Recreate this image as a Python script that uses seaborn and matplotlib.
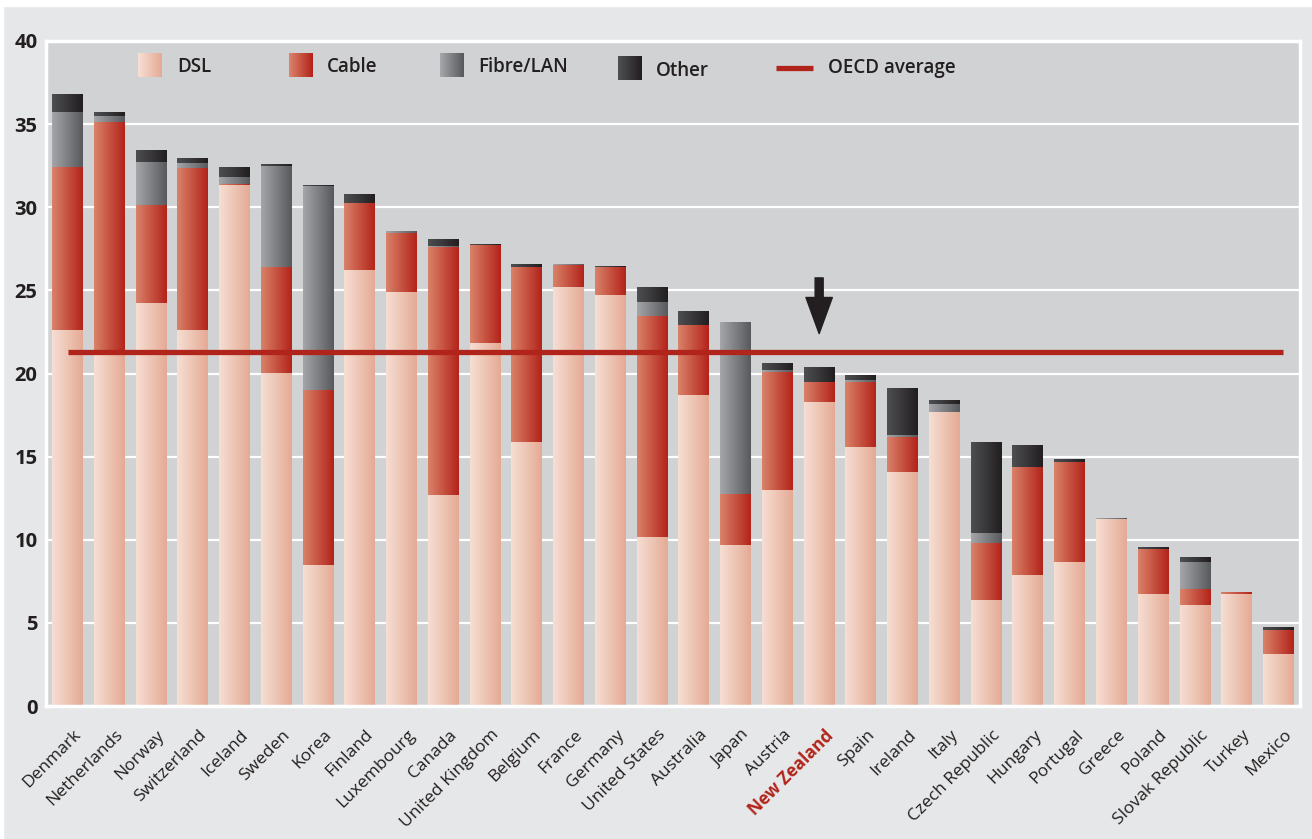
import numpy as np
import matplotlib
matplotlib.use("Agg")
import matplotlib.pyplot as plt
import seaborn as sns
from matplotlib.colors import LinearSegmentedColormap
from matplotlib.patches import Rectangle
from matplotlib.transforms import ScaledTranslation

# ---------------------------------------------------------
# Data: broadband subscribers per 100 inhabitants, by technology
# ---------------------------------------------------------
countries = [
    "Denmark", "Netherlands", "Norway", "Switzerland", "Iceland", "Sweden",
    "Korea", "Finland", "Luxembourg", "Canada", "United Kingdom", "Belgium",
    "France", "Germany", "United States", "Australia", "Japan", "Austria",
    "New Zealand", "Spain", "Ireland", "Italy", "Czech Republic", "Hungary",
    "Portugal", "Greece", "Poland", "Slovak Republic", "Turkey", "Mexico",
]
dsl = [22.6, 21.4, 24.2, 22.6, 31.3, 20.0, 8.45, 26.2, 24.9, 12.65,
       21.8, 15.85, 25.2, 24.7, 10.15, 18.7, 9.65, 12.95, 18.25, 15.55,
       14.05, 17.65, 6.35, 7.85, 8.65, 11.2, 6.7, 6.05, 6.7, 3.1]
cable = [9.8, 13.7, 5.9, 9.75, 0.05, 6.4, 10.55, 4.05, 3.5, 14.95,
         5.9, 10.5, 1.3, 1.65, 13.25, 4.2, 3.1, 7.1, 1.2, 3.9,
         2.1, 0.0, 3.4, 6.5, 6.0, 0.0, 2.7, 0.95, 0.12, 1.45]
fibre = [3.3, 0.35, 2.6, 0.3, 0.45, 6.05, 12.25, 0.0, 0.12, 0.05,
         0.0, 0.0, 0.07, 0.0, 0.9, 0.0, 10.3, 0.12, 0.0, 0.12,
         0.12, 0.5, 0.6, 0.0, 0.0, 0.06, 0.0, 1.65, 0.0, 0.0]
other = [1.1, 0.25, 0.7, 0.3, 0.6, 0.1, 0.05, 0.5, 0.0, 0.4,
         0.08, 0.18, 0.0, 0.06, 0.85, 0.8, 0.0, 0.45, 0.9, 0.3,
         2.8, 0.25, 5.5, 1.3, 0.18, 0.03, 0.12, 0.3, 0.0, 0.18]
oecd_average = 21.3
highlight = "New Zealand"

# ---------------------------------------------------------
# Style
# ---------------------------------------------------------
TEXT = "#231f20"
RED = "#b1241b"
PANEL = "#d1d2d4"
OUTER = "#e6e7e8"

sns.set_style("white")
plt.rcParams["font.family"] = ["Open Sans", "DejaVu Sans"]

gradients = {
    "DSL": LinearSegmentedColormap.from_list("dsl", ["#f6dfd4", "#e4aa94"]),
    "Cable": LinearSegmentedColormap.from_list("cable", ["#d9836a", "#b3231a"]),
    "Fibre/LAN": LinearSegmentedColormap.from_list("fibre", ["#a5a6a9", "#58595c"]),
    "Other": LinearSegmentedColormap.from_list("other", ["#4e4f52", "#221e1f"]),
}

# cumulative tops, drawn tallest first so the shorter layers sit in front
d = np.array(dsl)
top_cable = d + np.array(cable)
top_fibre = top_cable + np.array(fibre)
top_other = top_fibre + np.array(other)
layers = [("Other", top_other), ("Fibre/LAN", top_fibre), ("Cable", top_cable), ("DSL", d)]

W, H = 1312, 839
AX_L, AX_R, AX_T, AX_B = 46, 1300, 41, 706

fig, ax = plt.subplots(figsize=(W / 100, H / 100), dpi=100)
fig.patch.set_facecolor(OUTER)
fig.subplots_adjust(left=AX_L / W, right=AX_R / W, bottom=1 - AX_B / H, top=1 - AX_T / H)
fig.patches.append(Rectangle((0, 1 - 6 / H), 1, 6 / H, transform=fig.transFigure,
                             color="white", zorder=-1))
fig.patches.append(Rectangle((0, 0), 3 / W, 1, transform=fig.transFigure,
                             color="white", zorder=-1))
ax.set_facecolor(PANEL)

for name, tops in layers:
    sns.barplot(x=countries, y=tops, order=countries, color=gradients[name](0.5),
                width=0.74, saturation=1, errorbar=None, linewidth=0, ax=ax)

# horizontal gradient fill on every bar
grad = np.linspace(0, 1, 256).reshape(1, -1)
for k, (name, tops) in enumerate(layers):
    for bar in ax.containers[k]:
        h = bar.get_height()
        if h <= 0:
            continue
        x0 = bar.get_x()
        ax.imshow(grad, cmap=gradients[name], aspect="auto", interpolation="bilinear",
                  extent=(x0, x0 + bar.get_width(), 0, h), zorder=2 + k * 0.1)

n = len(countries)
ax.hlines(oecd_average, 0, n - 1 + 0.1, color=RED, linewidth=3.8, zorder=5)

# arrow pointing at New Zealand
i_nz = countries.index(highlight)
ax.annotate("", xy=(i_nz, 22.4), xytext=(i_nz, 25.75),
            arrowprops=dict(arrowstyle="simple,head_length=1.3,head_width=0.95,tail_width=0.29",
                            color=TEXT, shrinkA=0, shrinkB=0, mutation_scale=20),
            zorder=6)

# axes
ax.set_xlim(-0.515, n - 1 + 0.515)
ax.set_ylim(0, 40)
ax.set_yticks(range(0, 41, 5))
ax.set_xlabel("")
ax.set_ylabel("")
ax.set_axisbelow(True)
ax.yaxis.grid(True, color="white", linewidth=1.6)
ax.xaxis.grid(False)
for s in ax.spines.values():
    s.set_color("white")
    s.set_linewidth(2.5)
    s.set_visible(True)

ax.tick_params(axis="y", length=0, pad=6, labelsize=14.5, labelcolor=TEXT)
for lab in ax.get_yticklabels():
    lab.set_fontweight("bold")
ax.tick_params(axis="x", which="major", length=0, pad=15, labelsize=12.5, labelcolor=TEXT)
ax.set_xticks(np.arange(n - 1) + 0.5, minor=True)
ax.tick_params(axis="x", which="minor", direction="in", length=11, width=1.4, color="white")

shift = ScaledTranslation(4 / 72, 0, fig.dpi_scale_trans)
for lab in ax.get_xticklabels():
    lab.set_rotation(45)
    lab.set_ha("right")
    lab.set_va("top")
    lab.set_rotation_mode("anchor")
    lab.set_transform(lab.get_transform() + shift)
    if lab.get_text() == highlight:
        lab.set_color(RED)
        lab.set_fontweight("bold")


# ---------------------------------------------------------
# Legend (placed by hand along the top of the panel)
# ---------------------------------------------------------
def fx(px):
    return (px - AX_L) / (AX_R - AX_L)


def fy(py):
    return (AX_B - py) / (AX_B - AX_T)


def gradient_box(x_px, y_px, size, cmap):
    steps = 24
    for j in range(steps):
        ax.add_patch(Rectangle((fx(x_px + j * size / steps), fy(y_px + size)),
                               (size / steps + 0.3) / (AX_R - AX_L), size / (AX_B - AX_T),
                               transform=ax.transAxes, color=cmap(j / (steps - 1)),
                               linewidth=0, zorder=7, clip_on=False))


legend_items = [("DSL", 138, 53, 177, 67.5), ("Cable", 289, 53, 327, 67.5),
                ("Fibre/LAN", 440, 53, 478, 67.5), ("Other", 618, 56, 656, 70.5)]
for name, bx, by, tx, ty in legend_items:
    gradient_box(bx, by, 24, gradients[name])
    ax.text(fx(tx), fy(ty), name, transform=ax.transAxes, ha="left", va="center",
            fontsize=13.5, fontweight="semibold", color=TEXT, zorder=7)
ax.plot([fx(776), fx(813)], [fy(68), fy(68)], transform=ax.transAxes, color=RED,
        linewidth=3.8, solid_capstyle="butt", zorder=7)
ax.text(fx(828), fy(67.5), "OECD average", transform=ax.transAxes, ha="left", va="center",
        fontsize=13.5, fontweight="semibold", color=TEXT, zorder=7)

fig.savefig("out.png", dpi=100, facecolor=fig.get_facecolor())
